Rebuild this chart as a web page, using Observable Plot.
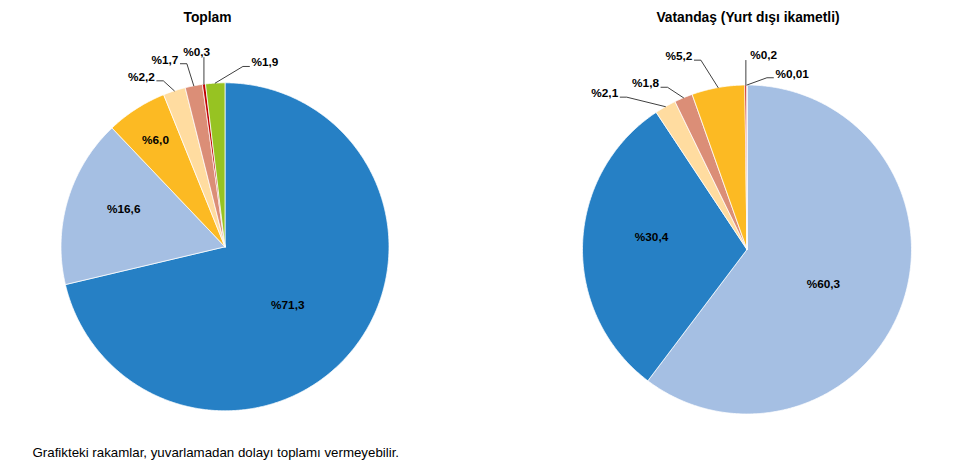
<!DOCTYPE html>
<html><head><meta charset="utf-8">
<script src="https://cdn.jsdelivr.net/npm/d3@7"></script>
<script src="https://cdn.jsdelivr.net/npm/@observablehq/plot@0.6"></script>
<style>body{margin:0;background:#fff;font-family:"Liberation Sans",Arial,sans-serif}</style>
</head><body><div id="chart"></div>
<script>
// ---- Data ----
const pieTitles = ["Toplam", "Vatandaş (Yurt dışı ikametli)"];
const captionText = "Grafikteki rakamlar, yuvarlamadan dolayı toplamı vermeyebilir.";

const toplamValues = [71.3, 16.6, 6.0, 2.2, 1.7, 0.3, 1.9];
const toplamLabels = ["%71,3", "%16,6", "%6,0", "%2,2", "%1,7", "%0,3", "%1,9"];

const vatandasValues = [60.3, 30.4, 2.1, 1.8, 5.2, 0.2, 0.01];
const vatandasLabels = ["%60,3", "%30,4", "%2,1", "%1,8", "%5,2", "%0,2", "%0,01"];

// ---- Styles / layout ----
const C = {dblue:"#2680C5", lblue:"#A5BFE3", orange:"#FCBA23", peach:"#FFDCA0", salmon:"#DB8E77", red:"#C00000", green:"#97C322"};
const toplamColors = [C.dblue, C.lblue, C.orange, C.peach, C.salmon, C.red, C.green];
const vatandasColors = [C.lblue, C.dblue, C.peach, C.salmon, C.orange, C.red, C.green];

const labelFontSize = 11.8, titleFontSize = 13.8, captionFontSize = 13.3;

const pieLayout = [
  {cx: 224.5, cy: 246.3, r: 164, titleX: 207, titleY: 17},
  {cx: 746.5, cy: 249, r: 164.5, titleX: 747.5, titleY: 17}
];
// label placement: [angle (deg, clockwise from 12 o'clock), radius factor]
const toplamLabelPos = [[133.1,0.524],[290.2,0.658],[327,0.778],[333.8,1.155],[342.2,1.198],[351.7,1.197],[12.2,1.150]];
const vatandasLabelPos = [[114.6,0.511],[277.2,0.585],[317.7,1.285],[328.6,1.184],[340.6,1.246],[4.9,1.184],[14.4,1.103]];

const pies = [
  {values: toplamValues, labels: toplamLabels, colors: toplamColors, pos: toplamLabelPos},
  {values: vatandasValues, labels: vatandasLabels, colors: vatandasColors, pos: vatandasLabelPos}
];

// ---- Build geometry from data ----
const ctx = document.createElement("canvas").getContext("2d");
ctx.font = "bold " + labelFontSize + "px 'Liberation Sans', Arial";
const rad = d => d * Math.PI / 180;
const polar = (L, a, rr) => [L.cx + rr * Math.sin(a), L.cy - rr * Math.cos(a)];

const wedgePts = [], labelData = [], leaderPts = [], titleData = [];
pies.forEach((p, pi) => {
  const L = pieLayout[pi];
  const arcs = d3.pie().sort(null).value(d => d)(p.values);
  titleData.push({x: L.titleX, y: L.titleY, text: pieTitles[pi]});
  arcs.forEach((a, i) => {
    const key = pi + "-" + i;
    const color = p.colors[i];
    const [x0, y0] = [L.cx, L.cy];
    wedgePts.push({key, color, x: x0, y: y0});
    const n = Math.max(2, Math.ceil((a.endAngle - a.startAngle) / rad(0.5)));
    for (let k = 0; k <= n; k++) {
      const ang = a.startAngle + (a.endAngle - a.startAngle) * k / n;
      const [x, y] = polar(L, ang, L.r);
      wedgePts.push({key, color, x, y});
    }
    wedgePts.push({key, color, x: x0, y: y0});

    const [la, lf] = p.pos[i];
    const [lx, ly] = polar(L, rad(la), L.r * lf);
    labelData.push({x: lx, y: ly, text: p.labels[i]});
    if (lf > 1) {
      const mid = (a.startAngle + a.endAngle) / 2;
      const [ex, ey] = polar(L, mid, L.r);
      const hw = ctx.measureText(p.labels[i]).width / 2;
      let pts;
      if (ex < lx - hw && (lx - hw - 2 - ex) > 8) {
        const endX = lx - hw - 2, endY = ly + 4;
        pts = [[ex, ey], [endX - 6.5, endY], [endX, endY]];
      } else if (ex > lx + hw && (ex - (lx + hw + 2)) > 8) {
        const endX = lx + hw + 2, endY = ly + 4;
        pts = [[ex, ey], [endX + 6.5, endY], [endX, endY]];
      } else {
        pts = [[ex, ey], [ex, ly + 5]];
      }
      pts.forEach(([x, y]) => leaderPts.push({key, x, y}));
    }
  });
});

const chart = Plot.plot({
  width: 977, height: 471,
  margin: 0,
  x: {type: "linear", domain: [0, 977], range: [0, 977], axis: null},
  y: {type: "linear", domain: [0, 471], range: [0, 471], axis: null},
  color: {type: "identity"},
  style: {fontFamily: "'Liberation Sans', Arial, sans-serif", background: "#fff"},
  marks: [
    Plot.line(wedgePts, {x: "x", y: "y", z: "key", fill: "color", stroke: "white", strokeWidth: 0.75, strokeLinejoin: "round", curve: "linear"}),
    Plot.line(leaderPts, {x: "x", y: "y", z: "key", stroke: "black", strokeWidth: 0.75, curve: "linear"}),
    Plot.text(labelData, {x: "x", y: "y", text: "text", fontSize: labelFontSize, fontWeight: "bold", fill: "black"}),
    Plot.text(titleData, {x: "x", y: "y", text: "text", fontSize: titleFontSize, fontWeight: "bold", fill: "black"}),
    Plot.text([captionText], {x: () => 32, y: () => 452, text: d => d, fontSize: captionFontSize, textAnchor: "start", fill: "black"})
  ]
});
document.getElementById("chart").appendChild(chart);
</script>
</body></html>
